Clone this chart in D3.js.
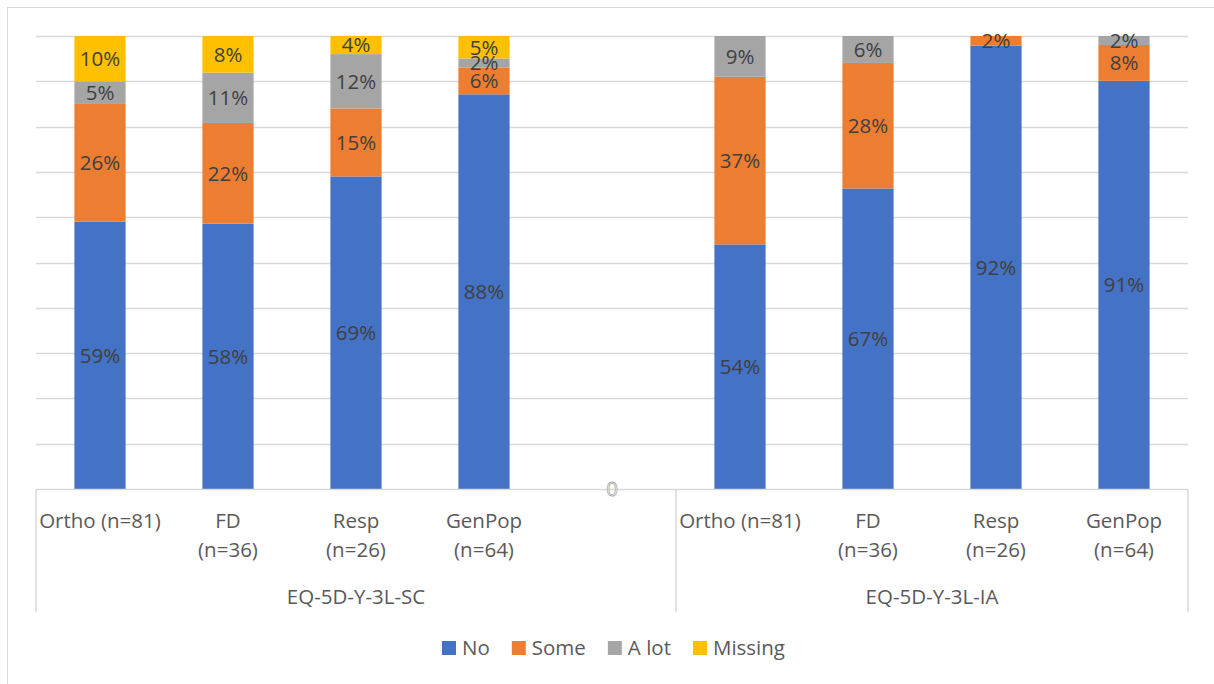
<!DOCTYPE html>
<html>
<head>
<meta charset="utf-8">
<script src="https://cdn.jsdelivr.net/npm/d3@7"></script>
<style>
  html, body { margin: 0; padding: 0; background: #fff; }
  #chart { width: 1214px; height: 684px; }
  text { font-family: "Open Sans", Lato, sans-serif; }
</style>
</head>
<body>
<div id="chart"></div>
<script>
// Series and categories
const seriesKeys = ['No', 'Some', 'A lot', 'Missing'];
const seriesColors = ['#4472C4', '#ED7D31', '#A5A5A5', '#FFC000'];
const categoryLines = [['Ortho (n=81)'], ['FD', '(n=36)'], ['Resp', '(n=26)'], ['GenPop', '(n=64)']];
const groups = ['EQ-5D-Y-3L-SC', 'EQ-5D-Y-3L-IA'];

const scNo = [59, 58, 69, 88];
const scSome = [26, 22, 15, 6];
const scALot = [5, 11, 12, 2];
const scMissing = [10, 8, 4, 5];

const iaNo = [54, 67, 92, 91];
const iaSome = [37, 28, 2, 8];
const iaALot = [9, 6, 0, 2];
const iaMissing = [0, 0, 0, 0];

const yTicks = [0, 0.1, 0.2, 0.3, 0.4, 0.5, 0.6, 0.7, 0.8, 0.9, 1];

const fontSize = 20.5;

// Build slots: 4 SC bars, one empty slot, 4 IA bars
const rows = [];
categoryLines.forEach((c, i) => rows.push({ slot: rows.length, lines: c, 'No': scNo[i], 'Some': scSome[i], 'A lot': scALot[i], 'Missing': scMissing[i] }));
rows.push({ slot: rows.length, lines: [], blank: true, 'No': 0, 'Some': 0, 'A lot': 0, 'Missing': 0 });
categoryLines.forEach((c, i) => rows.push({ slot: rows.length, lines: c, 'No': iaNo[i], 'Some': iaSome[i], 'A lot': iaALot[i], 'Missing': iaMissing[i] }));

const W = 1214, H = 684;
const plot = { left: 36, right: 1188, top: 36, bottom: 489 };

const svg = d3.select('#chart').append('svg')
    .attr('width', W)
    .attr('height', H);

// Chart border
svg.append('rect')
    .attr('x', 7.5).attr('y', 7.5)
    .attr('width', 1230).attr('height', 700)
    .attr('fill', '#fff')
    .attr('stroke', '#D9D9D9')
    .attr('stroke-width', 1);

const x = d3.scaleBand()
    .domain(rows.map(d => d.slot))
    .range([plot.left, plot.right])
    .paddingInner(0.6)
    .paddingOuter(0.3);

const y = d3.scaleLinear()
    .domain([0, 1])
    .range([plot.bottom, plot.top]);

const color = d3.scaleOrdinal().domain(seriesKeys).range(seriesColors);

// Gridlines
svg.append('g')
    .selectAll('line')
    .data(yTicks.slice(1))
    .join('line')
    .attr('x1', plot.left).attr('x2', plot.right)
    .attr('y1', d => Math.round(y(d)) + 0.5)
    .attr('y2', d => Math.round(y(d)) + 0.5)
    .attr('stroke', '#D9D9D9')
    .attr('stroke-width', 1.5);

// Stack with 100% normalisation (like Excel)
const stacked = d3.stack()
    .keys(seriesKeys)
    .offset(d3.stackOffsetExpand)(rows);

const layers = svg.append('g')
    .selectAll('g')
    .data(stacked)
    .join('g')
    .attr('fill', d => color(d.key));

layers.selectAll('rect')
    .data(d => d.map(p => ({ p, key: d.key })))
    .join('rect')
    .attr('x', d => x(d.p.data.slot))
    .attr('width', x.bandwidth())
    .attr('y', d => y(d.p[1]))
    .attr('height', d => Math.max(0, y(d.p[0]) - y(d.p[1])));

// Category axis line
svg.append('line')
    .attr('x1', plot.left).attr('x2', plot.right)
    .attr('y1', plot.bottom + 0.5).attr('y2', plot.bottom + 0.5)
    .attr('stroke', '#D9D9D9').attr('stroke-width', 1.5);

// Data labels
const labelG = svg.append('g');
stacked.forEach(layer => {
    layer.forEach(p => {
        const v = p.data[layer.key];
        if (!v) return;
        labelG.append('text')
            .attr('x', x(p.data.slot) + x.bandwidth() / 2)
            .attr('y', (y(p[0]) + y(p[1])) / 2)
            .attr('dy', '0.36em')
            .attr('text-anchor', 'middle')
            .attr('fill', '#404040')
            .attr('font-size', fontSize)
            .text(v + '%');
    });
});

// Empty slot label "0"
rows.filter(d => d.blank).forEach(d => {
    svg.append('text')
        .attr('x', x(d.slot) + x.bandwidth() / 2)
        .attr('y', plot.bottom)
        .attr('dy', '0.36em')
        .attr('text-anchor', 'middle')
        .attr('fill', '#fff')
        .attr('stroke', '#A6A6A6')
        .attr('stroke-width', 0.8)
        .attr('font-size', fontSize)
        .text('0');
});

// Category labels
rows.forEach(d => {
    d.lines.forEach((line, i) => {
        svg.append('text')
            .attr('x', x(d.slot) + x.bandwidth() / 2)
            .attr('y', 528 + i * 29)
            .attr('text-anchor', 'middle')
            .attr('fill', '#595959')
            .attr('font-size', fontSize)
            .text(line);
    });
});

// Group dividers and labels
const step = x.step();
const dividers = [plot.left, plot.left + 5 * step, plot.right];
svg.append('g')
    .selectAll('line')
    .data(dividers)
    .join('line')
    .attr('x1', d => d).attr('x2', d => d)
    .attr('y1', plot.bottom).attr('y2', 612)
    .attr('stroke', '#D9D9D9').attr('stroke-width', 1.5);

groups.forEach((g, i) => {
    svg.append('text')
        .attr('x', (dividers[i] + dividers[i + 1]) / 2)
        .attr('y', 604)
        .attr('text-anchor', 'middle')
        .attr('fill', '#595959')
        .attr('font-size', fontSize)
        .text(g);
});

// Legend
const legend = svg.append('g');
let cx = 0;
seriesKeys.forEach((k, i) => {
    const item = legend.append('g');
    item.append('rect')
        .attr('x', 0).attr('y', -14)
        .attr('width', 14).attr('height', 14)
        .attr('fill', color(k));
    const t = item.append('text')
        .attr('x', 20).attr('y', 0)
        .attr('fill', '#595959')
        .attr('font-size', fontSize)
        .text(k);
    item.attr('transform', `translate(${cx},0)`);
    cx += 20 + t.node().getComputedTextLength() + 22;
});
const legendW = cx - 22;
legend.attr('transform', `translate(${Math.round(613 - legendW / 2)},655)`);
</script>
</body>
</html>
